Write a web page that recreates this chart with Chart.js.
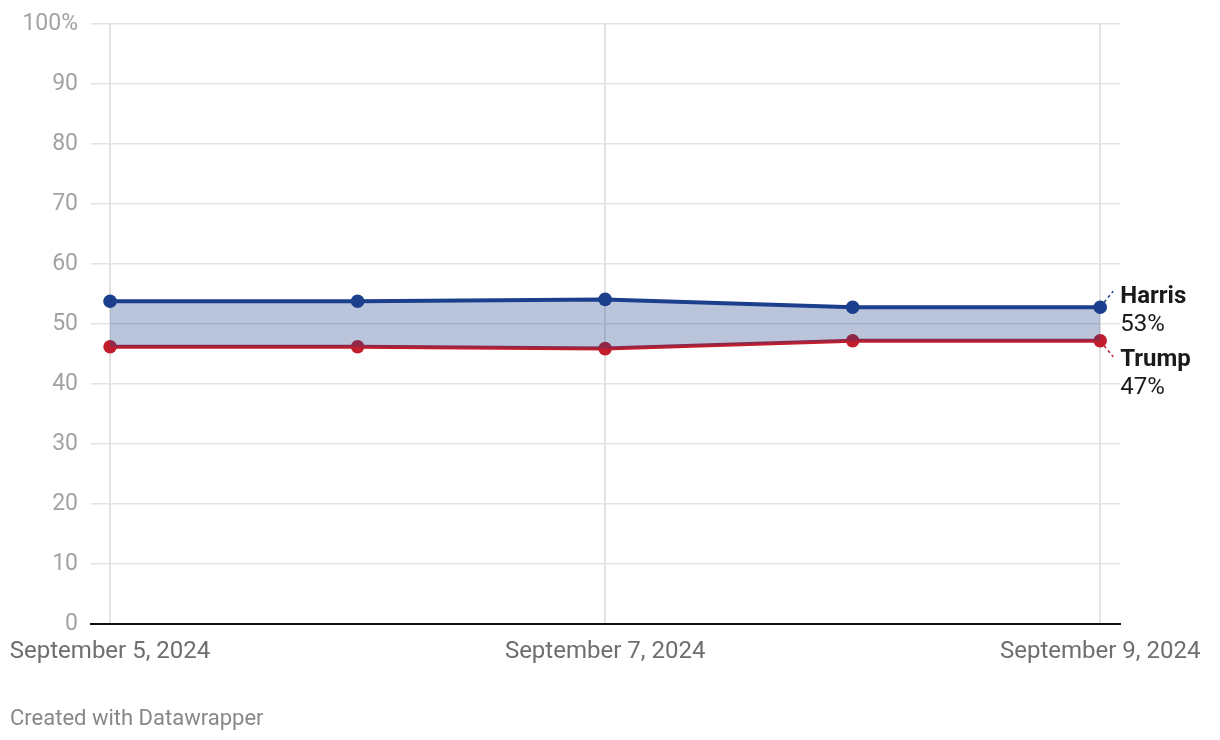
<!DOCTYPE html>
<html>
<head>
<meta charset="utf-8">
<script src="https://cdn.jsdelivr.net/npm/chart.js@4.4.1/dist/chart.umd.min.js"></script>
<style>
  body { margin: 0; background: #fff; font-family: Roboto, sans-serif; }
  #wrap { position: relative; width: 1220px; height: 740px; }
  #footer { position: absolute; left: 10px; top: 705px; font-size: 22px; color: #888; }
</style>
</head>
<body>
<div id="wrap">
  <canvas id="myChart" width="1220" height="740"></canvas>
  <div id="footer">Created with Datawrapper</div>
</div>
<script>
// days since Sep 5, 2024
const days = [0, 1, 2, 3, 4];
const dates = ['September 5, 2024', 'September 6, 2024', 'September 7, 2024', 'September 8, 2024', 'September 9, 2024'];
const harris = [53.8, 53.8, 54.1, 52.8, 52.8];
const trump = [46.2, 46.2, 45.9, 47.2, 47.2];
const yTicks = [0, 10, 20, 30, 40, 50, 60, 70, 80, 90, 100];
const xTicks = [0, 2, 4];

const blue = '#1b3f8c';
const red = '#c21d2d';

// end labels with small dashed connectors
const endLabels = {
  id: 'endLabels',
  afterDatasetsDraw(chart) {
    const ctx = chart.ctx;
    const items = [
      { ds: 0, name: 'Harris', color: blue, dy: [-10, 18], dir: -1 },
      { ds: 1, name: 'Trump', color: red, dy: [19, 47], dir: 1 }
    ];
    items.forEach(function(it) {
      const meta = chart.getDatasetMeta(it.ds);
      const pt = meta.data[meta.data.length - 1];
      const vals = chart.data.datasets[it.ds].data;
      const v = vals[vals.length - 1].y;
      ctx.save();
      ctx.strokeStyle = it.color;
      ctx.lineWidth = 1.5;
      ctx.setLineDash([3, 3]);
      ctx.beginPath();
      ctx.moveTo(pt.x + 4, pt.y + it.dir * 5);
      ctx.lineTo(pt.x + 13, pt.y + it.dir * 16);
      ctx.stroke();
      ctx.setLineDash([]);
      ctx.fillStyle = '#1a1a1a';
      ctx.textBaseline = 'middle';
      ctx.textAlign = 'left';
      ctx.font = 'bold 24px Roboto';
      ctx.fillText(it.name, pt.x + 20, pt.y + it.dy[0]);
      ctx.font = '24px Roboto';
      ctx.fillText(Math.round(v) + '%', pt.x + 20, pt.y + it.dy[1]);
      ctx.restore();
    });
  }
};

const ctx = document.getElementById('myChart').getContext('2d');
new Chart(ctx, {
  type: 'line',
  data: {
    datasets: [{
      label: 'Harris',
      data: days.map((d, i) => ({ x: d, y: harris[i] })),
      borderColor: blue,
      backgroundColor: blue,
      borderWidth: 4,
      pointRadius: 6.8,
      pointHoverRadius: 6.8,
      pointBorderWidth: 0,
      fill: { target: '+1', above: 'rgba(27,63,140,0.3)', below: 'rgba(27,63,140,0.3)' },
      tension: 0
    }, {
      label: 'Trump',
      data: days.map((d, i) => ({ x: d, y: trump[i] })),
      borderColor: red,
      backgroundColor: red,
      borderWidth: 4,
      pointRadius: 6.8,
      pointHoverRadius: 6.8,
      pointBorderWidth: 0,
      fill: false,
      tension: 0
    }]
  },
  options: {
    responsive: false,
    animation: false,
    layout: { padding: { top: 24, right: 100, left: 0, bottom: 66 } },
    plugins: {
      legend: { display: false },
      tooltip: { enabled: false }
    },
    scales: {
      x: {
        type: 'linear',
        min: -0.077,
        max: 4.08,
        afterBuildTicks: function(scale) {
          scale.ticks = xTicks.map(v => ({ value: v }));
        },
        afterFit: function(scale) {
          scale.paddingLeft = 0;
          scale.paddingRight = 0;
          scale.height = 50;
        },
        ticks: {
          color: '#6e6e6e',
          font: { family: 'Roboto', size: 24 },
          padding: 14,
          maxRotation: 0,
          autoSkip: false,
          callback: function(value) { return dates[days.indexOf(value)]; }
        },
        grid: { color: '#e3e3e3', lineWidth: 2, drawTicks: false },
        border: { display: true, color: '#111', width: 2 }
      },
      y: {
        min: 0,
        max: 100,
        afterBuildTicks: function(scale) {
          scale.ticks = yTicks.map(v => ({ value: v }));
        },
        afterFit: function(scale) {
          scale.width = 91;
          scale.paddingTop = 0;
          scale.paddingBottom = 0;
        },
        ticks: {
          color: '#a3a3a3',
          font: { family: 'Roboto', size: 23 },
          padding: 13,
          callback: function(value) { return value === 100 ? '100%' : value; }
        },
        grid: { color: '#e3e3e3', lineWidth: 1.5, drawTicks: false },
        border: { display: false }
      }
    }
  },
  plugins: [endLabels]
});
</script>
</body>
</html>
